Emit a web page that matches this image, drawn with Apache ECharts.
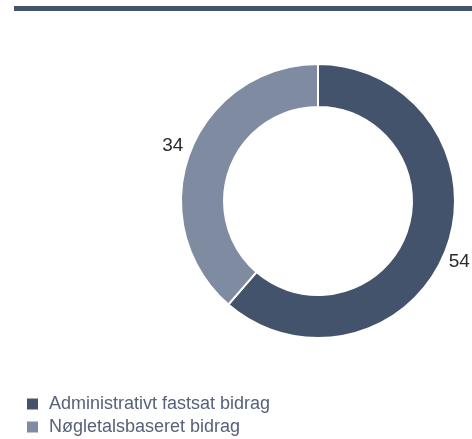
<!DOCTYPE html>
<html>
<head>
<meta charset="utf-8">
<script src="https://cdn.jsdelivr.net/npm/echarts@6/dist/echarts.min.js"></script>
<style>
html,body{margin:0;padding:0;background:#fff;}
#chart{width:472px;height:439px;}
</style>
</head>
<body>
<div id="chart"></div>
<script>
var categories = ["Administrativt fastsat bidrag", "Nøgletalsbaseret bidrag"];
var values = [54, 34];
var colors = ["#43536b", "#7f8ba1"];

var chart = echarts.init(document.getElementById('chart'), null, {renderer: 'canvas'});
var data = categories.map(function (c, i) {
  return {name: c, value: values[i], itemStyle: {color: colors[i]}};
});
chart.setOption({
  animation: false,
  graphic: [{
    type: 'rect',
    shape: {x: 14, y: 6, width: 460, height: 5},
    style: {fill: '#43536b'}
  }],
  legend: {
    orient: 'vertical',
    left: 25,
    top: 395,
    height: 44,
    padding: 0,
    itemWidth: 13,
    itemHeight: 13,
    itemGap: 5,
    icon: 'rect',
    textStyle: {fontFamily: 'Liberation Sans, Arial, sans-serif', fontSize: 18, lineHeight: 18, color: '#55627a', padding: [0, 0, 0, 5]},
    data: categories
  },
  series: [{
    type: 'pie',
    center: [318, 201],
    radius: [94, 137],
    startAngle: 90,
    clockwise: true,
    avoidLabelOverlap: false,
    itemStyle: {borderColor: '#fff', borderWidth: 2},
    label: {
      show: true,
      position: 'outside',
      formatter: '{c}',
      fontFamily: 'Liberation Sans, Arial, sans-serif',
      fontSize: 19,
      color: '#2b2b2b'
    },
    labelLine: {show: false, length: 18, length2: 0},
    labelLayout: function (p) {
      var w = p.labelRect.width;
      return p.align === 'left'
        ? {dx: -(w / 2 + 9), dy: 7}
        : {dx: (w / 2 + 5), dy: -1};
    },
    emphasis: {disabled: true},
    data: data
  }]
});
</script>
</body>
</html>
